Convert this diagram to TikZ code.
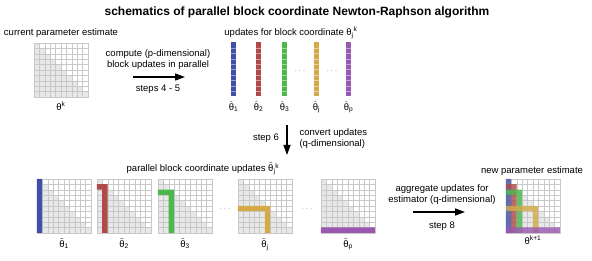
\documentclass[tikz,border=0pt]{standalone}
\usepackage{fontspec}
\setmainfont{Liberation Sans}
\usetikzlibrary{positioning,arrows.meta,calc}

\definecolor{vblue}{RGB}{64,80,168}
\definecolor{vred}{RGB}{176,74,74}
\definecolor{vgreen}{RGB}{76,184,76}
\definecolor{vgold}{RGB}{212,170,72}
\definecolor{vpurple}{RGB}{154,88,176}
\definecolor{shadecol}{RGB}{232,232,232}
\definecolor{gridcol}{RGB}{200,200,200}
\newcommand{\cellw}{5.4}

\begin{document}
\begin{tikzpicture}[
	x=1pt, y=-1pt,
	every node/.style={font=\fontsize{9.5}{11}\selectfont},
	title/.style={font=\fontsize{12}{14}\selectfont\bfseries},
	lab/.style={inner sep=1pt},
	dots/.style={text=gray},
	gridbox/.style={draw=gridcol, line width=0.4pt, inner sep=0pt, minimum size=54pt, path picture={
		\coordinate (nw) at (path picture bounding box.north west);
		\foreach \r in {0,...,9}
			\fill[shadecol] ($(nw)+(0,\r*\cellw)$) rectangle ($(nw)+({(\r+1)*\cellw},{(\r+1)*\cellw})$);
		\foreach \i in {1,...,9} {
			\draw[gridcol, line width=0.4pt] ($(nw)+(\i*\cellw,0)$) -- ++(0,54);
			\draw[gridcol, line width=0.4pt] ($(nw)+(0,\i*\cellw)$) -- ++(54,0);
		}
	}},
	vecbox/.style={inner sep=0pt, minimum width=5.4pt, minimum height=54pt, path picture={
		\coordinate (nw) at (path picture bounding box.north west);
		\foreach \r in {1,...,9}
			\draw[white, opacity=0.45, line width=0.3pt] ($(nw)+(0,\r*\cellw)$) -- ++(\cellw,0);
	}},
	bigarrow/.style={line width=1.3pt, -{Triangle[length=10pt, width=7pt]}}
]
\useasboundingbox (0,0) rectangle (592,261);

% title
\node[title] (ttl) at (297,12) {schematics of parallel block coordinate Newton-Raphson algorithm};

% current estimate
\node (lcur) at (61,33) {current parameter estimate};
\node[gridbox] (g0) at (61,70) {};
\node[lab, below=3pt of g0] (lg0) {θ\textsuperscript{k}};

% steps 4 - 5
\node[align=center] (lcomp) at (158,59.5) {compute (p-dimensional)\\block updates in parallel};
\coordinate (a1s) at (133,77);
\coordinate (a1e) at (185,77);
\draw[bigarrow] (a1s) -- (a1e);
\node (lst45) at (158,89) {steps 4 - 5};

% block updates
\node (lupd) at (291,33) {updates for block coordinate θ\textsubscript{j}\textsuperscript{k}};
\node[vecbox, fill=vblue] (v1) at (233.5,69.5) {};
\node[vecbox, fill=vred] (v2) at (258.5,69.5) {};
\node[vecbox, fill=vgreen] (v3) at (284.5,69.5) {};
\node[vecbox, fill=vgold] (vj) at (316.5,69.5) {};
\node[vecbox, fill=vpurple] (vp) at (348.5,69.5) {};
\node[dots] (d1) at (300,71) {$\cdots$};
\node[dots] (d2) at (332,71) {$\cdots$};
\node[lab, below=3pt of v1] (lv1) {$\hat{\hbox{θ}}$\textsubscript{1}};
\node[lab, below=3pt of v2] (lv2) {$\hat{\hbox{θ}}$\textsubscript{2}};
\node[lab, below=3pt of v3] (lv3) {$\hat{\hbox{θ}}$\textsubscript{3}};
\node[lab, below=3pt of vj] (lvj) {$\hat{\hbox{θ}}$\textsubscript{j}};
\node[lab, below=3pt of vp] (lvp) {$\hat{\hbox{θ}}$\textsubscript{p}};

% step 6
\coordinate (a2s) at (287,125);
\coordinate (a2e) at (287,155);
\draw[bigarrow] (a2s) -- (a2e);
\node (lst6) at (266,138) {step 6};
\node[anchor=west, align=left] (lconv) at (296,138.5) {convert updates\\(q-dimensional)};

% parallel block coordinate updates
\node (lpar) at (203,169) {parallel block coordinate updates $\tilde{\hbox{θ}}$\textsubscript{j}\textsuperscript{k}};
\node[gridbox] (t1) at (64,206) {};
\node[gridbox] (t2) at (124,206) {};
\node[gridbox] (t3) at (185,206) {};
\node[gridbox] (tj) at (265,206) {};
\node[gridbox] (tp) at (348,206) {};
\node[dots] (d3) at (225,209) {$\cdots$};
\node[dots] (d4) at (307,209) {$\cdots$};
\foreach \g/\k/\col in {t1/0/vblue, t2/1/vred, t3/2/vgreen, tj/5/vgold, tp/9/vpurple}
	\fill[\col] ($(\g.north west)+(0,\k*\cellw)$) rectangle ++({(\k+1)*\cellw},\cellw)
		($(\g.north west)+(\k*\cellw,\k*\cellw)$) rectangle ($(\g.north west)+({(\k+1)*\cellw},54)$);
\node[lab, below=4pt of t1] (lt1) {$\tilde{\hbox{θ}}$\textsubscript{1}};
\node[lab, below=4pt of t2] (lt2) {$\tilde{\hbox{θ}}$\textsubscript{2}};
\node[lab, below=4pt of t3] (lt3) {$\tilde{\hbox{θ}}$\textsubscript{3}};
\node[lab, below=4pt of tj] (ltj) {$\tilde{\hbox{θ}}$\textsubscript{j}};
\node[lab, below=4pt of tp] (ltp) {$\tilde{\hbox{θ}}$\textsubscript{p}};

% step 8
\node[align=center] (lagg) at (442,194.5) {aggregate updates for\\estimator (q-dimensional)};
\coordinate (a3s) at (413,212);
\coordinate (a3e) at (465,212);
\draw[bigarrow] (a3s) -- (a3e);
\node (lst8) at (442,226) {step 8};

% new estimate
\node (lnew) at (532,171) {new parameter estimate};
\node[gridbox] (g1) at (533,206) {};
\foreach \k/\col in {0/vblue, 1/vred, 2/vgreen, 5/vgold, 9/vpurple}
	\fill[\col, opacity=0.8] ($(g1.north west)+(0,\k*\cellw)$) rectangle ++({(\k+1)*\cellw},\cellw)
		($(g1.north west)+(\k*\cellw,\k*\cellw)$) rectangle ($(g1.north west)+({(\k+1)*\cellw},54)$);
\node[lab, below=1pt of g1] (lg1) {θ\textsuperscript{k+1}};
\end{tikzpicture}
\end{document}
